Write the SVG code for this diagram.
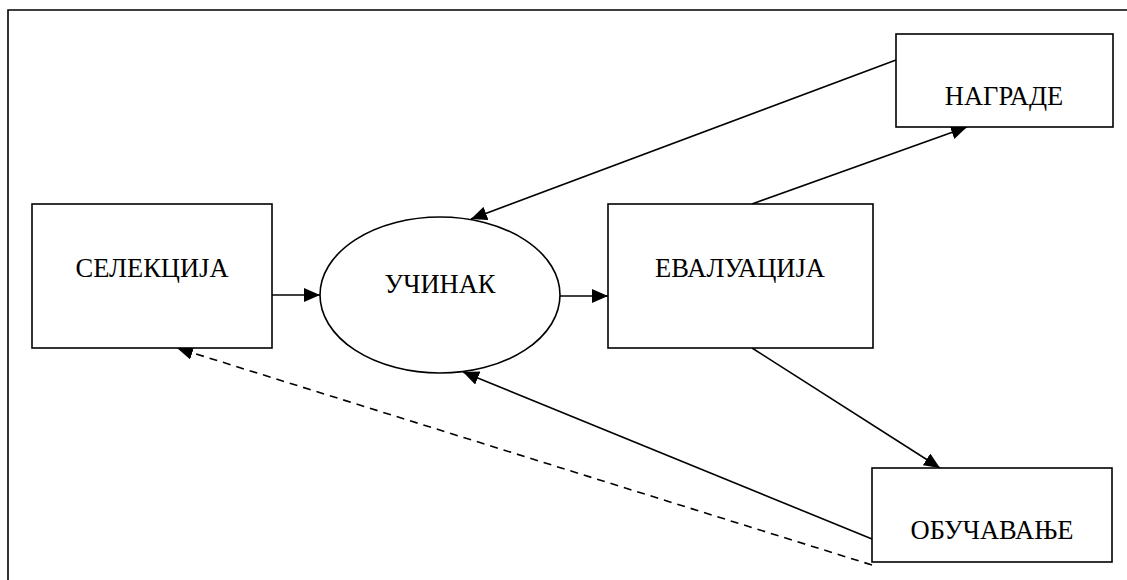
<svg xmlns="http://www.w3.org/2000/svg" width="1127" height="580" viewBox="0 0 1127 580">
  <defs>
    <style>
      .box { fill: #ffffff; stroke: #000000; stroke-width: 1.6; }
      .frame { fill: none; stroke: #000000; stroke-width: 1.6; }
      .lbl { font-family: "Liberation Serif", "DejaVu Serif", "Times New Roman", serif; font-size: 26.5px; fill: #000000; text-anchor: middle; }
      .edge { fill: none; stroke: #000000; stroke-width: 1.6; }
      .dash { stroke-dasharray: 8 6; }
    </style>
    <marker id="arrow" viewBox="0 0 16 14" refX="16" refY="7" markerWidth="16" markerHeight="14" markerUnits="userSpaceOnUse" orient="auto">
      <path d="M0,0 L16,7 L0,14 Z" fill="#000000"/>
    </marker>
  </defs>

  <rect width="1127" height="580" fill="#ffffff"/>

  <!-- outer frame, open to the right and bottom -->
  <path class="frame" d="M8,600 L8,10 L1140,10"/>

  <g id="connectors">
    <line class="edge" x1="272" y1="295" x2="320" y2="295" marker-end="url(#arrow)"/>
    <line class="edge" x1="560" y1="296" x2="608" y2="296" marker-end="url(#arrow)"/>
    <line class="edge" x1="752" y1="204" x2="967" y2="127" marker-end="url(#arrow)"/>
    <line class="edge" x1="896" y1="60" x2="471" y2="219" marker-end="url(#arrow)"/>
    <line class="edge" x1="752" y1="348" x2="940" y2="468" marker-end="url(#arrow)"/>
    <line class="edge" x1="872" y1="539" x2="463" y2="372" marker-end="url(#arrow)"/>
    <line class="edge dash" x1="872" y1="565" x2="177" y2="348" marker-end="url(#arrow)"/>
  </g>

  <g id="selekcija">
    <rect class="box" x="32" y="204" width="240" height="144"/>
    <text class="lbl" x="152" y="277">СЕЛЕКЦИЈА</text>
  </g>

  <g id="ucinak">
    <ellipse class="box" cx="440" cy="295" rx="120" ry="78"/>
    <text class="lbl" x="440" y="293">УЧИНАК</text>
  </g>

  <g id="evaluacija">
    <rect class="box" x="608" y="204" width="265" height="144"/>
    <text class="lbl" x="740" y="277">ЕВАЛУАЦИЈА</text>
  </g>

  <g id="nagrade">
    <rect class="box" x="896" y="34" width="217" height="93"/>
    <text class="lbl" x="1004" y="105">НАГРАДЕ</text>
  </g>

  <g id="obucavanje">
    <rect class="box" x="872" y="468" width="240" height="94"/>
    <text class="lbl" x="992" y="539">ОБУЧАВАЊЕ</text>
  </g>
</svg>
